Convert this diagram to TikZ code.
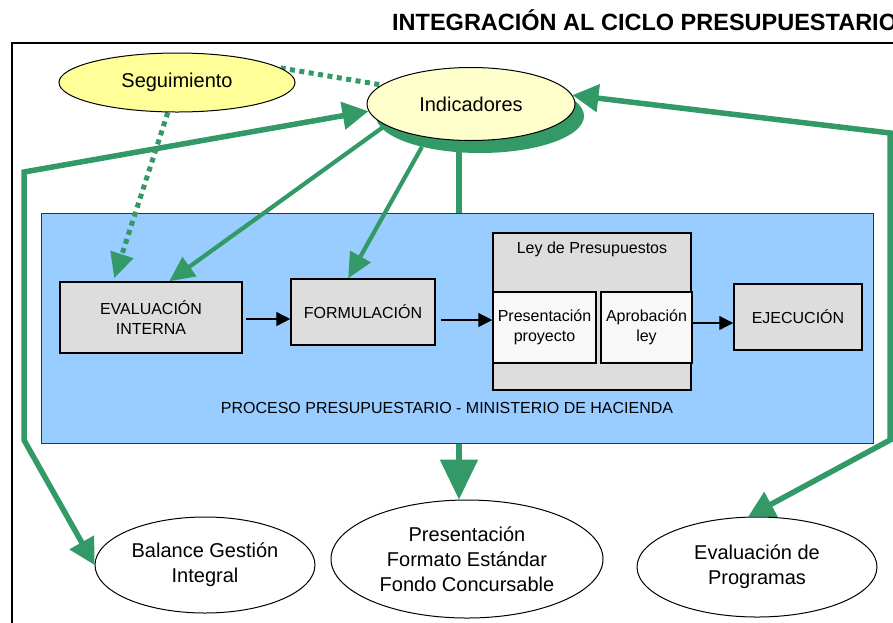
\documentclass[tikz,border=0pt]{standalone}
\usepackage{fontspec}
\setmainfont{Liberation Sans}
\usetikzlibrary{arrows.meta,shapes.geometric}
\definecolor{grn}{HTML}{339966}
\definecolor{blu}{HTML}{99CCFF}
\definecolor{yel}{HTML}{FFFF99}
\definecolor{lyel}{HTML}{FFFFCC}
\definecolor{gry}{HTML}{DDDDDD}
\definecolor{wht}{HTML}{F8F8F8}
\pgfdeclarelayer{back}
\pgfdeclarelayer{conn}
\pgfsetlayers{back,conn,main}
\begin{document}
\begin{tikzpicture}[x=1pt,y=-1pt,
  ell/.style={ellipse,draw,line width=1pt,inner sep=0pt,align=center,font=\fontsize{20}{25}\selectfont},
  procbox/.style={rectangle,draw,line width=1.5pt,fill=gry,inner sep=0pt,align=center,font=\fontsize{16}{20}\selectfont},
  subbox/.style={procbox,fill=wht},
  gthick/.style={draw=grn,line width=5.5pt},
  gmed/.style={draw=grn,line width=4.2pt},
  gdots/.style={draw=grn,line width=5pt,dash pattern=on 5pt off 4.5pt},
  bothtips/.style={{Triangle[length=26pt,width=27pt]}-{Triangle[length=26pt,width=27pt]}},
  medtip/.style={-{Triangle[length=25pt,width=23pt]}},
  barrow/.style={draw=black,line width=1.3pt,-{Triangle[length=14pt,width=14pt]}},
  lbl/.style={inner sep=0pt,font=\fontsize{16}{20}\selectfont}
]
\useasboundingbox (0,0) rectangle (893,622);

% title and frame
\node[anchor=base west,inner sep=0pt,font=\bfseries\fontsize{23.5}{28}\selectfont] (title) at (392,30) {INTEGRACIÓN AL CICLO PRESUPUESTARIO};
\coordinate (fr1) at (12,640);
\coordinate (fr2) at (12,43);
\coordinate (fr3) at (900,43);

% process area
\begin{pgfonlayer}{back}
\fill[white] (0,0) rectangle (893,622);
\draw[line width=2pt] (fr1) -- (fr2) -- (fr3);
\node[draw=black!80,line width=1pt,fill=blu,minimum width=832pt,minimum height=230pt,inner sep=0pt] (blue) at (457,328) {};
\end{pgfonlayer}
\node[lbl] (proclbl) at (447,408) {PROCESO PRESUPUESTARIO - MINISTERIO DE HACIENDA};

\node[procbox,minimum width=182pt,minimum height=71pt] (eval) at (151,317.5) {EVALUACIÓN\\INTERNA};
\node[procbox,minimum width=144pt,minimum height=66pt] (form) at (363,312) {FORMULACIÓN};
\node[procbox,minimum width=198pt,minimum height=157pt] (ley) at (592,311.5) {};
\node[lbl] (leylbl) at (592,249) {Ley de Presupuestos};
\node[subbox,minimum width=103pt,minimum height=71pt] (pres) at (544.5,327.5) {Presentación\\proyecto};
\node[subbox,minimum width=91pt,minimum height=71pt] (aprob) at (646.5,327.5) {Aprobación\\ley};
\node[procbox,minimum width=128pt,minimum height=66pt] (ejec) at (798,317) {EJECUCIÓN};

% ellipses
\node[ell,fill=yel,minimum width=236pt,minimum height=59pt] (seg) at (177,82.5) {Seguimiento};
\node[ellipse,fill=grn,inner sep=0pt,minimum width=208pt,minimum height=74pt] (indsh) at (480,116) {};
\node[ell,fill=lyel,minimum width=208pt,minimum height=73pt] (ind) at (471,104) {Indicadores};

\node[ell,minimum width=220pt,minimum height=96pt] (bal) at (205,565) {Balance Gestión\\Integral};
\node[ell,minimum width=272pt,minimum height=118pt] (presf) at (467,559) {Presentación\\Formato Estándar\\Fondo Concursable};
\node[ell,minimum width=240pt,minimum height=100pt] (evp) at (757,567) {Evaluación de\\Programas};

% connectors
\begin{pgfonlayer}{conn}
\coordinate (ef) at (246,319);
\coordinate (fp) at (441,320);
\coordinate (ae) at (692,323);
\coordinate (l1) at (583,267);
\coordinate (l2) at (602,267);
\draw[barrow] (ef) -- (form.west |- ef);
\draw[barrow] (fp) -- (pres.west |- fp);
\draw[barrow] (aprob.east |- ae) -- (ejec.west |- ae);
\draw[barrow] (l1) -- ([xshift=37pt]pres.north west);
\draw[barrow] (l2) -- ([xshift=15pt,yshift=4pt]aprob.north);

\coordinate (cL1) at (24,172);
\coordinate (cL2) at (24,440);
\coordinate (cR1) at (890,133);
\coordinate (cR2) at (890,440);
\draw[gthick,bothtips] (ind.184) -- (cL1) -- (cL2) -- (bal.west);
\draw[gthick,bothtips] (ind.5) -- (cR1) -- (cR2) -- (evp.100);

\draw[gdots] (seg.8) -- (ind.168);
\draw[gdots,medtip] (seg.253) -- ([xshift=55pt,yshift=3pt]eval.north west);

\draw[gmed,medtip] (ind.194) -- ([xshift=110pt]eval.north west);
\draw[gmed,medtip] (indsh.208) -- ([xshift=58pt]form.north west);

\draw[gthick] (indsh.240) -- (indsh.240 |- blue.north);
\draw[gthick,-{Triangle[length=40pt,width=37pt]}] (blue.south -| indsh.240) -- (presf.north -| indsh.240);
\end{pgfonlayer}
\end{tikzpicture}
\end{document}
